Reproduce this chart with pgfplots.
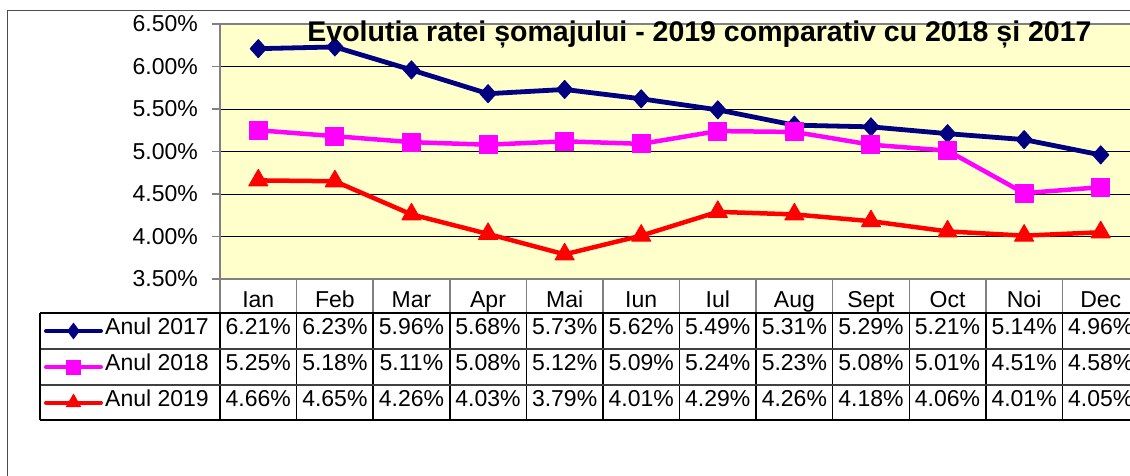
\documentclass[border=0pt]{standalone}
\usepackage{fontspec}
\setmainfont{Liberation Sans}
\usepackage{pgfplots}
\usepackage{pgfplotstable}
\pgfplotsset{compat=1.18}

\definecolor{c17}{HTML}{000080}
\definecolor{c18}{HTML}{FF00FF}
\definecolor{c19}{HTML}{FF0000}
\definecolor{plotbg}{HTML}{FFFFCC}
\definecolor{frame}{HTML}{808080}

\newcommand\fs{\fontsize{23}{23}\selectfont}

% somaj lunar (%), 2017 / 2018 / 2019
\pgfplotstableread{
x m a17 a18 a19
0 Ian 6.21 5.25 4.66
1 Feb 6.23 5.18 4.65
2 Mar 5.96 5.11 4.26
3 Apr 5.68 5.08 4.03
4 Mai 5.73 5.12 3.79
5 Iun 5.62 5.09 4.01
6 Iul 5.49 5.24 4.29
7 Aug 5.31 5.23 4.26
8 Sept 5.29 5.08 4.18
9 Oct 5.21 5.01 4.06
10 Noi 5.14 4.51 4.01
11 Dec 4.96 4.58 4.05
}\data

\begin{document}
\begin{tikzpicture}[x=1pt,y=1pt]
\useasboundingbox (0,0) rectangle (1130,475);
\clip (0,0) rectangle (1130,475);
\draw[draw=black!70, line width=1.3pt] (7.3,-20) rectangle (1200,464.3);

% grafic
\begin{axis}[
    at={(220pt,196pt)}, anchor=south west,
    scale only axis, width=919pt, height=255pt,
    xmin=-0.5, xmax=11.5, ymin=3.5, ymax=6.5,
    xtick={0,...,11},
    xticklabels from table={\data}{m},
    ytick={3.5,4,...,6.5},
    yticklabel={\pgfmathprintnumber[fixed,fixed zerofill,precision=2,assume math mode=true]{\tick}\%},
    tick align=outside, major tick length=8pt,
    ytick pos=left, xtick pos=bottom,
    major x tick style={draw=none},
    major y tick style={draw=frame, line width=1.3pt},
    yticklabel style={font=\fs, anchor=east, inner sep=0pt, xshift=-14pt},
    xticklabel style={font=\fs, anchor=center, inner sep=0pt, text height=0.716em, text depth=0pt, yshift=-16.5pt},
    ymajorgrids, grid style={black, line width=1pt},
    axis line style={draw=frame, line width=2pt},
    axis background/.style={fill=plotbg},
    clip=false,
]
\addplot[c17, line width=4.8pt, line join=round, mark=diamond*, mark size=9pt,
    mark options={solid, xscale=1.2, line width=1pt}] table[x=x, y=a17] {\data};
\addplot[c18, line width=4.5pt, line join=round, mark=square*, mark size=9pt,
    mark options={solid, line width=1pt}] table[x=x, y=a18] {\data};
\addplot[c19, line width=4.5pt, line join=round, mark=triangle*, mark size=11pt,
    mark options={solid, line width=1pt}] table[x=x, y=a19] {\data};
\end{axis}

\node[anchor=base, font=\fontsize{28.5}{28.5}\selectfont\bfseries] at (699.5,433)
    {Evolutia ratei șomajului - 2019 comparativ cu 2018 și 2017};

% tabel de date
\begin{axis}[
    at={(220pt,55pt)}, anchor=south west,
    scale only axis, width=919pt, height=141pt,
    xmin=-0.5, xmax=11.5, ymin=0, ymax=141,
    hide axis, clip=false,
    every node near coord/.append style={font=\fs, inner sep=0pt, text height=0.716em, text depth=0pt, black},
]
\foreach \k in {0,...,12} {
    \edef\tmp{\noexpand\draw[frame, line width=1.5pt] (axis cs:\k-0.5,107) -- (axis cs:\k-0.5,141);
        \noexpand\draw[black, line width=1.5pt] (axis cs:\k-0.5,0) -- (axis cs:\k-0.5,107);}
    \tmp
}
\draw[black, line width=1.5pt] (axis cs:-2.85,107) -- (axis cs:12,107);
\draw[black!75, line width=1.5pt] (axis cs:-2.85,71) -- (axis cs:12,71);
\draw[black!75, line width=1.5pt] (axis cs:-2.85,35) -- (axis cs:12,35);
\draw[black, line width=1.5pt] (axis cs:-2.85,0) -- (axis cs:12,0);
\draw[black, line width=1.5pt] (axis cs:-2.85,0) -- (axis cs:-2.85,107);

\addplot[draw=none, mark=none, point meta=explicit symbolic,
    nodes near coords={\pgfplotspointmeta\%}, nodes near coords align=center]
    table[x=x, y expr=89, meta=a17] {\data};
\addplot[draw=none, mark=none, point meta=explicit symbolic,
    nodes near coords={\pgfplotspointmeta\%}, nodes near coords align=center]
    table[x=x, y expr=53, meta=a18] {\data};
\addplot[draw=none, mark=none, point meta=explicit symbolic,
    nodes near coords={\pgfplotspointmeta\%}, nodes near coords align=center]
    table[x=x, y expr=17.5, meta=a19] {\data};

% legenda
\addplot[c17, line width=4pt, line cap=round, mark=diamond*, mark indices={2}, mark size=8pt,
    mark options={solid, line width=0.5pt}] coordinates {(-2.772,89) (-2.413,89) (-2.054,89)};
\addplot[c18, line width=4pt, line cap=round, mark=square*, mark indices={2}, mark size=7pt,
    mark options={solid, line width=0.5pt}] coordinates {(-2.772,53) (-2.413,53) (-2.054,53)};
\addplot[c19, line width=4pt, line cap=round, mark=triangle*, mark indices={2}, mark size=8.5pt,
    mark options={solid, line width=0.5pt}] coordinates {(-2.772,17.5) (-2.413,17.5) (-2.054,17.5)};
\node[anchor=west, font=\fs, inner sep=0pt, text height=0.716em, text depth=0pt] at (axis cs:-2.0016,89) {Anul 2017};
\node[anchor=west, font=\fs, inner sep=0pt, text height=0.716em, text depth=0pt] at (axis cs:-2.0016,53) {Anul 2018};
\node[anchor=west, font=\fs, inner sep=0pt, text height=0.716em, text depth=0pt] at (axis cs:-2.0016,17.5) {Anul 2019};
\end{axis}
\end{tikzpicture}
\end{document}
